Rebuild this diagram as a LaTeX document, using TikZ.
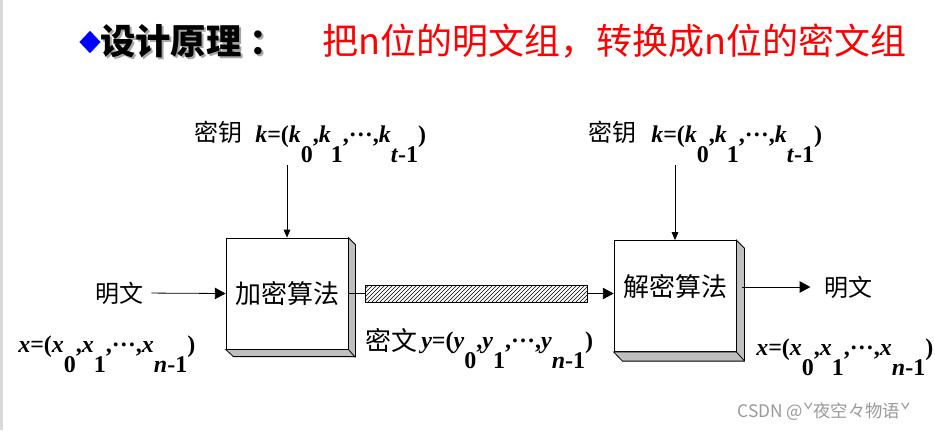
\documentclass[tikz,border=0pt]{standalone}
\usepackage{fontspec}
\setmainfont{Liberation Serif}
\newfontfamily\cjk{Noto Sans CJK SC}
\newfontfamily\tms{Liberation Serif}
\usetikzlibrary{patterns,arrows.meta,shapes.geometric}
\newcommand\subl[1]{\raisebox{-15pt}{\upshape #1}}
\newcommand\vi[1]{\textit{#1}}
\tikzset{
 box/.style={draw, fill=white, line width=0.6pt, minimum width=91.5pt, minimum height=83.25pt, inner sep=0},
 side/.style={fill=black!25, draw, line width=0.6pt, line join=miter},
 arr/.style={-{Triangle[length=8pt,width=8.5pt]}, line width=0.6pt},
 karr/.style={-{Triangle[length=6pt,width=5pt]}, line width=0.6pt},
 zh/.style={font=\cjk\fontsize{18pt}{20pt}\selectfont, inner sep=0},
 zhb/.style={font=\cjk\fontsize{19.5pt}{22pt}\selectfont, inner sep=0},
 fml/.style={font=\tms\bfseries\fontsize{18pt}{20pt}\selectfont, inner sep=0, anchor=base west},
}
\begin{document}
\begin{tikzpicture}[x=0.75pt,y=-0.75pt]
\useasboundingbox (0,0) rectangle (935,430);
\fill[white] (0,0) rectangle (935,430);
\fill[black!15] (0,0) rectangle (3,430);
% title
\node[diamond, fill=blue, inner sep=0, minimum width=16pt, minimum height=17pt] (dia) at (90,42) {};
\node[anchor=west, inner sep=0, text=black!35, font=\cjk\bfseries\fontsize{26.5pt}{30pt}\selectfont] (tshadow) at (102,43) {设计原理\hspace{6pt}：};
\node[anchor=west, inner sep=0, font=\cjk\bfseries\fontsize{26.5pt}{30pt}\selectfont] (title) at (100,41) {设计原理\hspace{6pt}：};
\node[anchor=west, inner sep=0, text=red, font=\cjk\fontsize{27pt}{32pt}\selectfont] (sub) at (322,41) {把n位的明文组，转换成n位的密文组};
% boxes
\node[box] (enc) at (287,293.5) {};
\filldraw[side] (enc.north east) -- ++(7,7) -- ++(0,112) -- ++(-122,0) -- (enc.south west) -- (enc.south east) -- cycle;
\draw[line width=0.6pt] (enc.south east) -- ++(7,8);
\node[zhb] (enclbl) at (287,293) {加密算法};
\node[box] (dec) at (675,296) {};
\filldraw[side] (dec.north east) -- ++(8,8) -- ++(0,113) -- ++(-122,0) -- (dec.south west) -- (dec.south east) -- cycle;
\draw[line width=0.6pt] (dec.south east) -- ++(8,9);
\node[zhb] (declbl) at (675,287) {解密算法};
% keys
\node[zh] (key1) at (218,132) {密钥};
\node[fml] (kf1) at (255,142) {\vi{k}=(\vi{k}\subl{0},\vi{k}\subl{1},\raisebox{4pt}{…},\vi{k}\subl{\vi{t}-1})};
\node[zh] (key2) at (612,132) {密钥};
\node[fml] (kf2) at (651,142) {\vi{k}=(\vi{k}\subl{0},\vi{k}\subl{1},\raisebox{4pt}{…},\vi{k}\subl{\vi{t}-1})};
\coordinate (k1top) at (287,165);
\coordinate (k2top) at (675,165);
\draw[karr] (k1top) -- (enc.north);
\draw[karr] (k2top) -- (dec.north);
% plaintext in
\node[zh] (pin) at (119,293) {明文};
\draw[arr, shorten <=6pt] (pin.east) -- (enc.west);
\node[fml] (xf1) at (18,352) {\vi{x}=(\vi{x}\subl{0},\vi{x}\subl{1},\raisebox{4pt}{…},\vi{x}\subl{\vi{n}-1})};
% ciphertext
\node[draw, line width=0.6pt, pattern=north east lines, minimum width=166.5pt, minimum height=12.75pt, inner sep=0] (bar) at (476,293.5) {};
\draw[line width=0.6pt] (enc.east) -- (bar.west);
\draw[arr] (bar.east) -- (bar.east -| dec.west);
\node[zhb] (cipher) at (391,340) {密文};
\node[fml] (yf) at (421,348) {\vi{y}=(\vi{y}\subl{0},\vi{y}\subl{1},\raisebox{4pt}{…},\vi{y}\subl{\vi{n}-1})};
% plaintext out
\node[zh] (pout) at (848,287) {明文};
\coordinate (decout) at (742,287);
\draw[arr, shorten >=10pt] (decout) -- (pout.west);
\node[fml] (xf2) at (756,355) {\vi{x}=(\vi{x}\subl{0},\vi{x}\subl{1},\raisebox{4pt}{…},\vi{x}\subl{\vi{n}-1})};
% watermark
\node[text=black!40, inner sep=0, font=\cjk\fontsize{13pt}{15pt}\selectfont] (wm) at (824,412) {CSDN @ˇ夜空々物语ˇ};
\end{tikzpicture}
\end{document}
